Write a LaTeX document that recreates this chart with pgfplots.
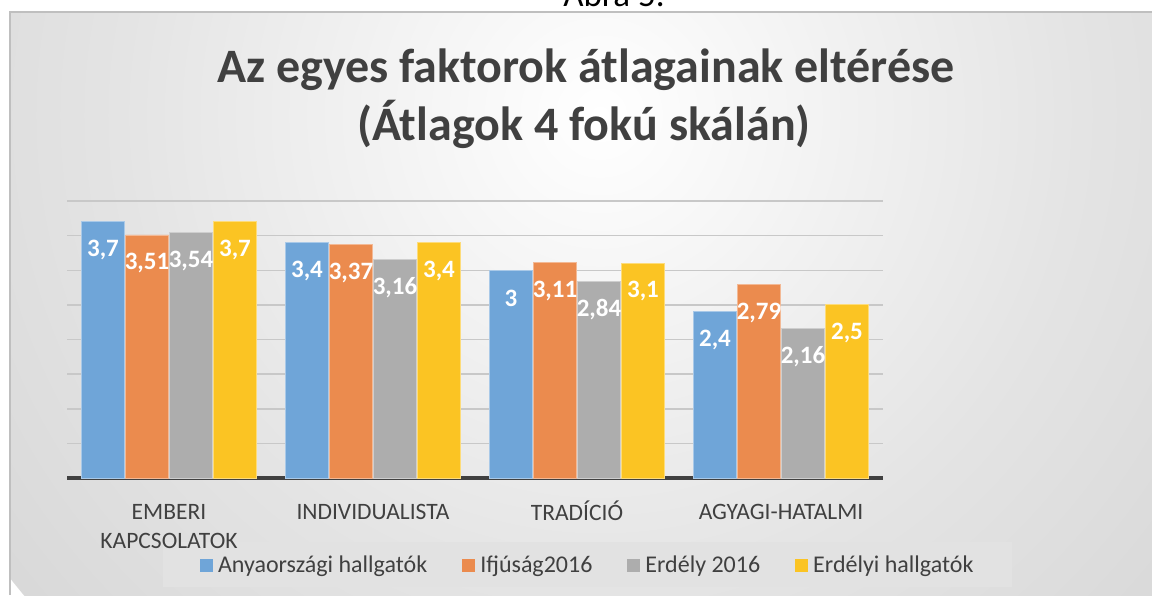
\documentclass[border=0pt]{standalone}
\usepackage{pgfplots}
\pgfplotsset{compat=1.18}
\usepackage{fontspec}
\setmainfont{Carlito}
\definecolor{cblue}{HTML}{6FA5D8}
\definecolor{corange}{HTML}{EB8B4E}
\definecolor{cgray}{HTML}{ADADAD}
\definecolor{cyellow}{HTML}{FBC423}
\definecolor{txt}{HTML}{404040}
\definecolor{axisdark}{HTML}{404040}
\definecolor{bgmid}{HTML}{E4E4E4}
\definecolor{bgdark}{HTML}{C6C6C6}
\definecolor{legbg}{HTML}{E2E2E2}
\definecolor{framegray}{HTML}{BFBFBF}
\definecolor{gridlight}{HTML}{C8C8C8}
\definecolor{griddark}{HTML}{A4A4A4}
\pgfdeclareradialshading{bgshade}{\pgfpoint{0bp}{0bp}}{color(0bp)=(white); color(16bp)=(bgmid); color(40bp)=(bgdark); color(50bp)=(bgdark)}
\begin{document}
\begin{tikzpicture}[x=1pt,y=1pt]
\useasboundingbox (0,0) rectangle (1152,595);
\clip (0,0) rectangle (1152,595);
\begin{scope}
\clip (10,0) rectangle (1152,583);
\shade[shading=bgshade] (600,480) circle (750);
\end{scope}
\draw[framegray, line width=1.5pt] (10,0) -- (10,583) -- (1152,583);
\node[anchor=base, inner sep=0pt, font=\fontsize{35}{40}\selectfont, text=black] at (614,588) {Ábra 5.};
\node[anchor=base, inner sep=0pt, font=\bfseries\fontsize{48}{56}\selectfont, text=txt] at (586,512) {Az egyes faktorok átlagainak eltérése};
\node[anchor=base, inner sep=0pt, font=\bfseries\fontsize{48}{56}\selectfont, text=txt] at (584,454) {(Átlagok 4 fokú skálán)};
\fill[legbg] (163,8) rectangle (1012,53);
\begin{axis}[
  at={(67pt,117pt)}, anchor=south west,
  scale only axis, width=816pt, height=277pt,
  xmin=-0.5, xmax=3.5, ymin=0, ymax=4,
  ybar=1pt, bar width=43pt,
  axis x line*=bottom, axis y line*=left,
  y axis line style={draw=none},
  x axis line style={line width=4pt, axisdark},
  xtick={0,1,2,3},
  xticklabels={{\rule{0pt}{19pt}EMBERI\\KAPCSOLATOK},{\rule{0pt}{19pt}INDIVIDUALISTA},{\rule{0pt}{19pt}TRADÍCIÓ},{\rule{0pt}{19pt}AGYAGI-HATALMI}},
  x tick label style={font=\fontsize{23.5}{29}\selectfont, text=txt, align=center, anchor=north, inner sep=0pt, yshift=-18pt},
  xtick style={draw=none}, ytick style={draw=none},
  ytick={2.5,3,3.5,4}, yticklabels={},
  extra y ticks={0.5,1,1.5,2}, extra y tick labels={},
  extra y tick style={grid style={griddark, line width=1.5pt}},
  ymajorgrids, major grid style={gridlight, line width=1.5pt},
  /pgf/number format/.cd, use comma, precision=2, assume math mode=true, /pgfplots/.cd,
  nodes near coords,
  every node near coord/.append style={font=\bfseries\fontsize{25}{25}\selectfont, text=white, anchor=center, yshift=-28pt},
  legend columns=4,
  legend style={at={(0.640,-0.315)}, anchor=center, fill=none, draw=none,
    font=\fontsize{24}{27}\selectfont, text=txt,
    /tikz/every even column/.append style={column sep=30pt},
    nodes={inner xsep=5pt}},
  legend image code/.code={\draw[#1,draw=none] (0pt,-6.5pt) rectangle (13pt,6.5pt);},
]
\addplot[fill=cblue, draw=cblue!60!white, line width=0.8pt] coordinates {(0,3.7) (1,3.4) (2,3) (3,2.4)};
\addplot[fill=corange, draw=corange!60!white, line width=0.8pt] coordinates {(0,3.51) (1,3.37) (2,3.11) (3,2.79)};
\addplot[fill=cgray, draw=cgray!60!white, line width=0.8pt] coordinates {(0,3.54) (1,3.16) (2,2.84) (3,2.16)};
\addplot[fill=cyellow, draw=cyellow!60!white, line width=0.8pt] coordinates {(0,3.7) (1,3.4) (2,3.1) (3,2.5)};
\legend{Anyaországi hallgatók, Ifjúság2016, Erdély 2016, Erdélyi hallgatók}
\end{axis}
\end{tikzpicture}
\end{document}
